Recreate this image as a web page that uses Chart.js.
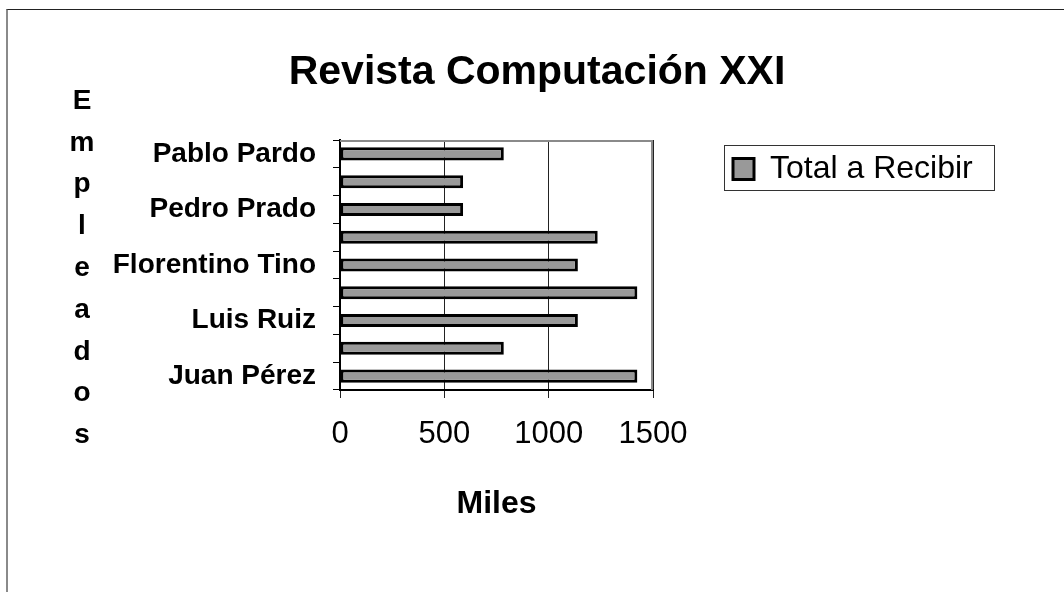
<!DOCTYPE html>
<html><head><meta charset="utf-8">
<script src="https://cdn.jsdelivr.net/npm/chart.js@4/dist/chart.umd.min.js"></script>
<style>
html,body{margin:0;padding:0;background:#fff;overflow:hidden}
#wrap{position:relative;width:1064px;height:592px;overflow:hidden}
#frame{position:absolute;left:6px;top:9px;width:1100px;height:700px;border-top:1px solid #222;border-left:2px solid #8a8a8a}
canvas{position:absolute;left:0;top:0}
</style></head><body>
<div id="wrap"><div id="frame"></div><canvas id="c" width="1064" height="592"></canvas></div>
<script>
const categories = ['Juan Pérez', '', 'Luis Ruiz', '', 'Florentino Tino', '', 'Pedro Prado', '', 'Pablo Pardo'];
const totalARecibir = [1425, 785, 1140, 1425, 1140, 1235, 590, 590, 785];
const seriesName = 'Total a Recibir';
const chartTitle = 'Revista Computación XXI';
const xTitle = 'Miles';
const yTitle = 'Empleados';
const xTicks = [0, 500, 1000, 1500];

const FONT = "'Liberation Sans', Arial, sans-serif";
Chart.defaults.font.family = FONT;
Chart.defaults.color = '#000';

const placeBlocks = {
  id: 'placeBlocks',
  afterLayout(chart) {
    const lg = chart.legend;
    if (lg) {
      const w = lg.width, h = lg.height;
      lg.left = 724; lg.top = 144; lg.right = lg.left + w; lg.bottom = lg.top + h;
    }
    const t = chart.titleBlock;
    if (t) { t.left = 10; t.right = 1064; t.width = 1054; }
  }
};

const plotFrame = {
  id: 'plotFrame',
  beforeDatasetsDraw(chart) {
    const {ctx, chartArea: a} = chart;
    ctx.save();
    ctx.strokeStyle = '#8a8a8a';
    ctx.lineWidth = 2;
    ctx.beginPath();
    ctx.moveTo(a.left, a.top + 1);
    ctx.lineTo(a.right - 1, a.top + 1);
    ctx.lineTo(a.right - 1, a.bottom);
    ctx.stroke();
    ctx.restore();
  },
  afterDraw(chart) {
    const ctx = chart.ctx;
    const lg = chart.legend;
    ctx.save();
    ctx.strokeStyle = '#333';
    ctx.lineWidth = 1;
    ctx.strokeRect(lg.left + 0.5, lg.top + 1.5, 270, 45);
    ctx.fillStyle = '#000';
    ctx.font = 'bold 28px ' + FONT;
    ctx.textAlign = 'center';
    ctx.textBaseline = 'middle';
    const letters = Array.from(yTitle);
    const x0 = 82, y0 = 101, step = 41.8;
    letters.forEach((ch, i) => ctx.fillText(ch, x0, y0 + i * step));
    ctx.restore();
  }
};

new Chart(document.getElementById('c'), {
  type: 'bar',
  data: {
    labels: categories,
    datasets: [{
      label: seriesName,
      data: totalARecibir,
      backgroundColor: '#999999',
      borderColor: '#000000',
      borderWidth: 3,
      borderSkipped: false,
      barPercentage: 0.47,
      categoryPercentage: 1.0
    }]
  },
  options: {
    indexAxis: 'y',
    responsive: false,
    devicePixelRatio: 1,
    animation: false,
    layout: { padding: { left: 0, right: 411, top: 0, bottom: 69 } },
    plugins: {
      tooltip: { enabled: false },
      title: {
        display: true,
        text: chartTitle,
        font: { size: 41, weight: 'bold' },
        color: '#000',
        padding: { top: 48, bottom: 42.8 }
      },
      legend: {
        position: 'chartArea',
        align: 'start',
        labels: {
          boxWidth: 21,
          boxHeight: 21,
          padding: 9,
          color: '#000',
          font: { size: 32 }
        }
      }
    },
    scales: {
      x: {
        type: 'linear',
        min: xTicks[0],
        max: xTicks[xTicks.length - 1],
        afterBuildTicks: s => { s.ticks = xTicks.map(v => ({ value: v })); },
        afterFit: s => { s.height = 133; },
        grid: { color: '#222', lineWidth: 1, tickLength: 8, drawOnChartArea: true, drawTicks: true },
        border: { color: '#000', width: 2 },
        ticks: { font: { size: 31 }, color: '#000', padding: 18, maxRotation: 0, callback: v => String(v) },
        title: { display: true, text: xTitle, font: { size: 32, weight: 'bold' }, color: '#000', padding: { top: 0, bottom: 0 } }
      },
      y: {
        reverse: true,
        afterFit: s => { s.width = 340; },
        grid: { offset: true, drawOnChartArea: false, drawTicks: true, tickLength: 7, color: '#000', lineWidth: 1 },
        border: { color: '#000', width: 2 },
        ticks: { autoSkip: false, font: { size: 28, weight: 'bold' }, color: '#000', padding: 17 }
      }
    }
  },
  plugins: [placeBlocks, plotFrame]
});
</script>
</body></html>
